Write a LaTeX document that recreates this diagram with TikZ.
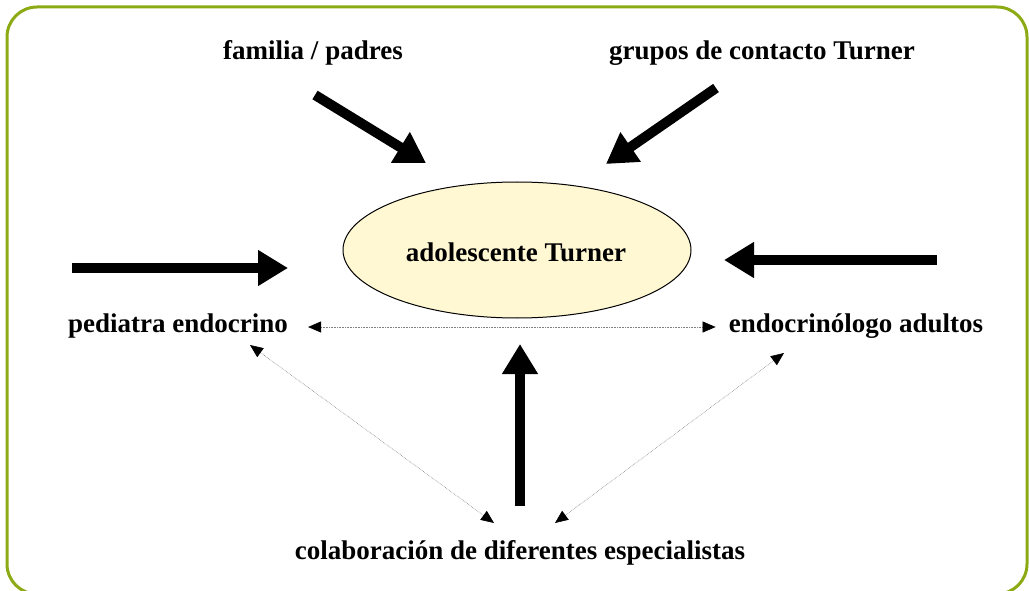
\documentclass[tikz,border=0pt]{standalone}
\usepackage{fontspec}
\setmainfont{Liberation Serif}
\usetikzlibrary{arrows.meta,shapes.geometric}
\definecolor{framegreen}{RGB}{140,170,20}
\definecolor{paleyellow}{RGB}{255,248,210}
\tikzset{
  label/.style={font=\fontsize{27}{32}\selectfont\bfseries, inner sep=0pt},
  bigarrow/.style={line width=10pt, -{Triangle[length=30pt,width=34pt]}},
  thinarrow/.style={draw=gray, densely dotted, line width=0.6pt, {Triangle[length=13pt,width=11pt,color=black]}-{Triangle[length=13pt,width=11pt,color=black]}}
}
\begin{document}
\begin{tikzpicture}[x=1pt,y=-1pt]
  \useasboundingbox (0,0) rectangle (1029,591);
  \draw[framegreen, line width=3pt, rounded corners=30pt] (7,7) rectangle (1027,594);

  \node[shape=ellipse, draw=black, line width=1pt, fill=paleyellow, minimum width=348pt, minimum height=136pt] (teen) at (517, 250) {};
  \node[label] (teenlabel) at (516, 252) {adolescente Turner};

  \node[label] (family) at (313, 53) {familia / padres};
  \node[label] (groups) at (762, 53) {grupos de contacto Turner};
  \node[label] (pediatric) at (178, 326) {pediatra endocrino};
  \node[label] (adult) at (856, 326) {endocrinólogo adultos};
  \node[label] (team) at (520, 553) {colaboración de diferentes especialistas};

  % free ends of the thick arrows
  \coordinate (f1) at (315, 95);
  \coordinate (f2) at (426, 163);
  \coordinate (g1) at (716, 88);
  \coordinate (g2) at (606, 164);
  \coordinate (p1) at (72, 268);
  \coordinate (p2) at (288, 268);
  \coordinate (a1) at (937, 260);
  \coordinate (a2) at (724, 260);
  \coordinate (t1) at (520, 506);
  \coordinate (t2) at (520, 344);

  \draw[bigarrow] (f1) -- (f2);
  \draw[bigarrow] (g1) -- (g2);
  \draw[bigarrow] (p1) -- (p2);
  \draw[bigarrow] (a1) -- (a2);
  \draw[bigarrow] (t1) -- (t2);

  % dotted links between the specialists
  \coordinate (pd) at (250, 345);
  \coordinate (ad) at (784, 353);
  \coordinate (tl) at (494, 523);
  \coordinate (tr) at (555, 523);
  \path (pediatric.east) ++(20,1) coordinate (pe);
  \path (adult.west) ++(-13,1) coordinate (aw);
  \draw[thinarrow] (pe) -- (aw);
  \draw[thinarrow] (pd) -- (tl);
  \draw[thinarrow] (ad) -- (tr);
\end{tikzpicture}
\end{document}
